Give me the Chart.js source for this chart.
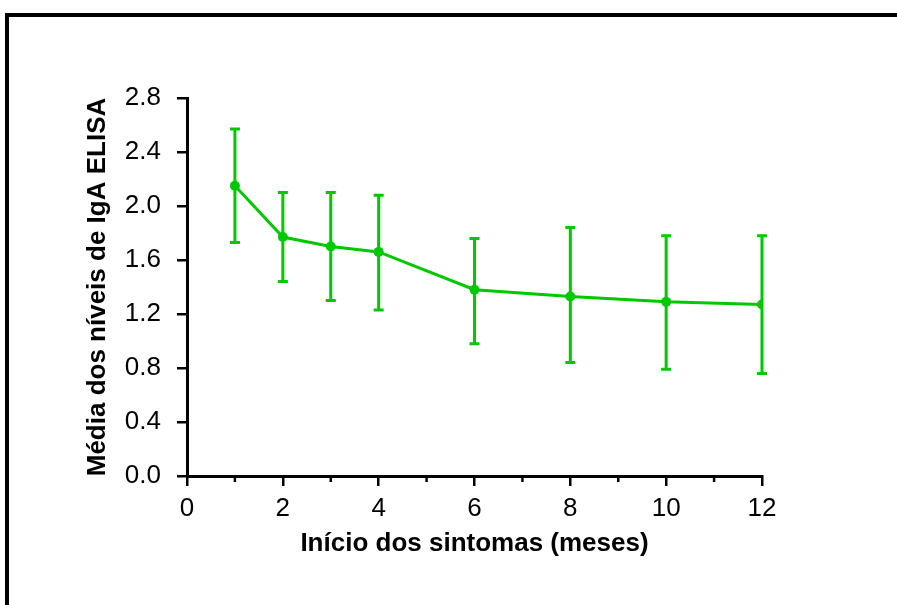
<!DOCTYPE html>
<html>
<head>
<meta charset="utf-8">
<script src="https://cdn.jsdelivr.net/npm/chart.js@4"></script>
<style>
  html, body { margin: 0; padding: 0; background: #fff; overflow: hidden; }
  #wrap { position: relative; width: 897px; height: 605px; }
  #frame { position: absolute; left: 5px; top: 13px; width: 1000px; height: 1000px; border: 4px solid #000; box-sizing: border-box; }
  canvas { position: absolute; left: 0; top: 0; }
</style>
</head>
<body>
<div id="wrap">
  <div id="frame"></div>
  <canvas id="chart" width="897" height="605"></canvas>
</div>
<script>
// months since symptom onset and mean IgA ELISA levels
const months = [1, 2, 3, 4, 6, 8, 10, 12];
const meanLevels = [2.15, 1.77, 1.70, 1.66, 1.38, 1.33, 1.29, 1.27];
const upperBars = [2.57, 2.10, 2.10, 2.08, 1.76, 1.84, 1.78, 1.78];
const lowerBars = [1.73, 1.44, 1.30, 1.23, 0.98, 0.84, 0.79, 0.76];
const minorTicks = [1, 3, 5, 7, 9, 11];

const green = '#00c800';
const sans = "'Liberation Sans', Arial, sans-serif";

// error bars, drawn through the chart's own scales
const errorBars = {
    id: 'errorBars',
    afterDatasetsDraw(chart) {
        const ctx = chart.ctx;
        const xs = chart.scales.x, ys = chart.scales.y;
        ctx.save();
        ctx.strokeStyle = green;
        ctx.lineWidth = 3;
        months.forEach((m, i) => {
            const px = xs.getPixelForValue(m);
            const top = ys.getPixelForValue(upperBars[i]);
            const bot = ys.getPixelForValue(lowerBars[i]);
            ctx.beginPath();
            ctx.moveTo(px, top); ctx.lineTo(px, bot);
            ctx.moveTo(px - 5, top); ctx.lineTo(px + 5, top);
            ctx.moveTo(px - 5, bot); ctx.lineTo(px + 5, bot);
            ctx.stroke();
        });
        ctx.restore();
    }
};

// short ticks at the odd months
const minorTickMarks = {
    id: 'minorTickMarks',
    afterDraw(chart) {
        const ctx = chart.ctx;
        const xs = chart.scales.x;
        ctx.save();
        ctx.strokeStyle = '#000';
        ctx.lineWidth = 2.5;
        minorTicks.forEach(m => {
            const px = xs.getPixelForValue(m);
            ctx.beginPath();
            ctx.moveTo(px, xs.top);
            ctx.lineTo(px, xs.top + 6);
            ctx.stroke();
        });
        ctx.restore();
    }
};

new Chart(document.getElementById('chart'), {
    type: 'line',
    data: {
        datasets: [{
            data: months.map((m, i) => ({ x: m, y: meanLevels[i] })),
            borderColor: green,
            backgroundColor: green,
            borderWidth: 3,
            pointRadius: 5,
            pointBackgroundColor: green,
            pointBorderWidth: 0,
            tension: 0
        }]
    },
    options: {
        responsive: false,
        animation: false,
        layout: { padding: { left: 80, right: 135, top: 98, bottom: 46 } },
        plugins: { legend: { display: false }, tooltip: { enabled: false } },
        scales: {
            x: {
                type: 'linear',
                min: 0, max: 12,
                afterFit: scale => { scale.height = 83; },
                ticks: {
                    stepSize: 2,
                    color: '#000',
                    padding: 7,
                    font: { family: sans, size: 26 }
                },
                grid: { drawOnChartArea: false, color: '#000', lineWidth: 2.5, tickLength: 10 },
                border: { color: '#000', width: 3 },
                title: {
                    display: true,
                    text: 'Início dos sintomas (meses)',
                    color: '#000',
                    padding: { top: 0, bottom: 0 },
                    font: { family: sans, size: 26, weight: 'bold' }
                }
            },
            y: {
                min: 0, max: 2.8,
                afterFit: scale => { scale.width = 107; },
                ticks: {
                    stepSize: 0.4,
                    color: '#000',
                    padding: 16,
                    font: { family: sans, size: 26 },
                    callback: v => v.toFixed(1)
                },
                grid: { drawOnChartArea: false, color: '#000', lineWidth: 2.5, tickLength: 10 },
                border: { color: '#000', width: 3 },
                title: {
                    display: true,
                    text: 'Média dos níveis de IgA ELISA',
                    color: '#000',
                    padding: { top: 2, bottom: 0 },
                    font: { family: sans, size: 26, weight: 'bold' }
                }
            }
        }
    },
    plugins: [errorBars, minorTickMarks]
});
</script>
</body>
</html>
